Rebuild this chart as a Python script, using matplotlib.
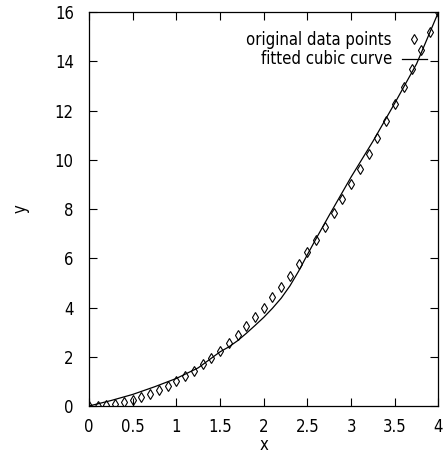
import matplotlib
matplotlib.use('Agg')
import matplotlib.pyplot as plt

plt.rcParams['font.family'] = ['DejaVu Sans']
plt.rcParams['font.stretch'] = 'condensed'

# original data points
x_data = [0.0, 0.1, 0.2, 0.3, 0.4, 0.5, 0.6, 0.7, 0.8, 0.9,
          1.0, 1.1, 1.2, 1.3, 1.4, 1.5, 1.6, 1.7, 1.8, 1.9,
          2.0, 2.1, 2.2, 2.3, 2.4, 2.5, 2.6, 2.7, 2.8, 2.9,
          3.0, 3.1, 3.2, 3.3, 3.4, 3.5, 3.6, 3.7, 3.8, 3.9, 4.0]
y_data = [0.0, 0.01, 0.04, 0.09, 0.16, 0.25, 0.36, 0.49, 0.64, 0.81,
          1.0, 1.21, 1.44, 1.69, 1.96, 2.25, 2.56, 2.89, 3.24, 3.61,
          4.0, 4.41, 4.84, 5.29, 5.76, 6.25, 6.76, 7.29, 7.84, 8.41,
          9.0, 9.61, 10.24, 10.89, 11.56, 12.25, 12.96, 13.69, 14.44, 15.21, 16.0]

# fitted cubic curve
x_fit = [0.0, 0.25, 0.5, 0.75, 1.0, 1.25, 1.5, 1.6, 1.7, 1.8, 1.9, 2.0,
         2.1, 2.2, 2.3, 2.4, 2.5, 2.6, 2.75, 3.0, 3.25, 3.5, 3.75, 4.0]
y_fit = [0.0, 0.22, 0.47, 0.78, 1.12, 1.55, 2.2, 2.4, 2.65, 2.95, 3.27, 3.6,
         3.97, 4.38, 4.88, 5.48, 6.15, 6.8, 7.75, 9.3, 10.75, 12.3, 13.9, 16.0]

fig = plt.figure(figsize=(4.44, 4.57), dpi=100)
ax = fig.add_axes([0.2005, 0.1116, 0.787, 0.862])

ax.plot(x_data, y_data, linestyle='none', marker='d', markersize=5,
        markerfacecolor='none', markeredgecolor='black', markeredgewidth=0.8,
        label='original data points')
ax.plot(x_fit, y_fit, color='black', linewidth=0.9, label='fitted cubic curve')

ax.set_xlim(0, 4)
ax.set_ylim(0, 16)
ax.set_xticks([0, 0.5, 1, 1.5, 2, 2.5, 3, 3.5, 4])
ax.set_xticklabels(['0', '0.5', '1', '1.5', '2', '2.5', '3', '3.5', '4'])
ax.set_yticks(range(0, 17, 2))
ax.tick_params(direction='in', length=6, width=0.8, top=True, right=True, labelsize=12)
ax.tick_params(axis='x', pad=9)
ax.tick_params(axis='y', pad=11)
for s in ax.spines.values():
    s.set_linewidth(0.9)

ax.set_xlabel('x', fontsize=12, labelpad=0)
ax.set_ylabel('y', fontsize=12, labelpad=18)

ax.legend(loc='upper right', bbox_to_anchor=(1.0, 0.982), frameon=False,
          markerfirst=False, fontsize=12, handlelength=1.5, handletextpad=0.6,
          labelspacing=0.1, borderaxespad=0.3)

fig.savefig('out.png', dpi=100)
